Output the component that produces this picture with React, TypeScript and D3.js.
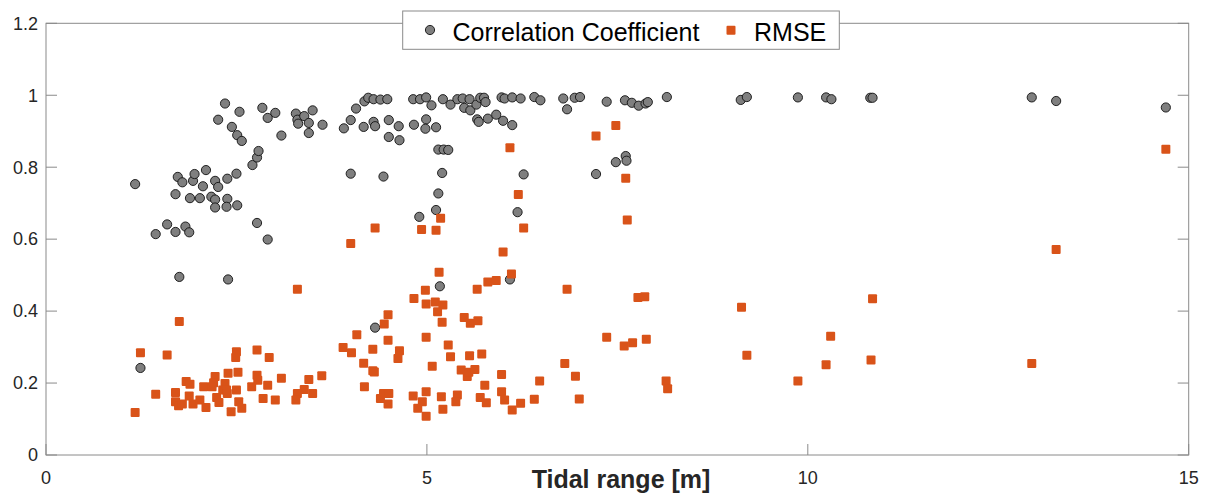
import React from "react";
import * as d3 from "d3";

// Correlation coefficient series (x = tidal range [m], y = coefficient)
const ccTidalRange = [
  1.17, 1.24, 1.44, 1.59, 1.70, 1.83, 1.88, 1.70, 1.73, 1.79, 1.75, 1.93, 1.95, 1.89, 2.02, 2.06, 2.10, 2.17,
  2.22, 2.26, 2.22, 2.22, 2.38, 2.37, 2.51, 2.38, 2.50, 2.39, 2.26, 2.35, 2.44, 2.54, 2.51, 2.57, 2.71, 2.77,
  2.79, 2.77, 2.91, 2.84, 2.91, 3.01, 3.09, 3.28, 3.30, 3.31, 3.39, 3.45, 3.45, 3.50, 3.63, 3.91, 4.00, 4.07,
  4.18, 4.17, 4.00, 4.23, 4.30, 4.39, 4.48, 4.30, 4.32, 4.32, 4.43, 4.50, 4.63, 4.50, 4.64, 4.82, 4.91, 4.83,
  4.90, 4.99, 4.99, 4.98, 5.06, 5.12, 5.15, 5.22, 5.28, 5.20, 5.15, 5.12, 5.17, 5.21, 5.31, 5.40, 5.47, 5.49,
  5.56, 5.57, 5.65, 5.70, 5.75, 5.77, 5.66, 5.68, 5.80, 5.91, 5.98, 6.02, 6.00, 6.12, 6.12, 6.09, 6.19, 6.23,
  6.27, 6.41, 6.49, 6.79, 6.84, 6.94, 7.01, 7.22, 7.36, 7.48, 7.61, 7.62, 7.60, 7.69, 7.78, 7.87, 7.90, 8.15,
  9.12, 9.20, 9.87, 10.24, 10.31, 10.82, 10.85, 12.94, 13.26, 14.70,
];
const ccValues = [
  0.753, 0.242, 0.614, 0.641, 0.620, 0.635, 0.619, 0.725, 0.773, 0.758, 0.495, 0.762, 0.781, 0.714, 0.714, 0.747, 0.792, 0.718,
  0.762, 0.745, 0.710, 0.688, 0.712, 0.690, 0.694, 0.768, 0.782, 0.488, 0.932, 0.977, 0.912, 0.954, 0.889, 0.873, 0.806, 0.827,
  0.845, 0.645, 0.599, 0.965, 0.937, 0.951, 0.888, 0.949, 0.932, 0.921, 0.942, 0.923, 0.895, 0.958, 0.918, 0.908, 0.931, 0.963,
  0.983, 0.912, 0.782, 0.993, 0.989, 0.988, 0.989, 0.926, 0.914, 0.354, 0.774, 0.931, 0.914, 0.884, 0.875, 0.989, 0.989, 0.918,
  0.662, 0.994, 0.933, 0.907, 0.972, 0.911, 0.849, 0.849, 0.848, 0.784, 0.727, 0.681, 0.469, 0.989, 0.974, 0.989, 0.991, 0.965,
  0.989, 0.958, 0.974, 0.993, 0.993, 0.981, 0.933, 0.926, 0.935, 0.946, 0.994, 0.991, 0.929, 0.994, 0.917, 0.488, 0.675, 0.991,
  0.780, 0.995, 0.986, 0.991, 0.961, 0.993, 0.995, 0.781, 0.982, 0.814, 0.831, 0.818, 0.986, 0.979, 0.971, 0.977, 0.981, 0.995,
  0.987, 0.995, 0.994, 0.994, 0.989, 0.993, 0.993, 0.994, 0.984, 0.966,
];

// RMSE series
const rmseTidalRange = [
  1.17, 1.24, 1.44, 1.59, 1.75, 1.70, 1.70, 1.74, 1.79, 1.84, 1.89, 1.88, 1.93, 2.02, 2.07, 2.10, 2.18, 2.22,
  2.20, 2.24, 2.27, 2.32, 2.35, 2.39, 2.37, 2.38, 2.43, 2.50, 2.49, 2.52, 2.50, 2.53, 2.57, 2.77, 2.93, 2.77,
  2.78, 2.70, 2.91, 2.85, 3.01, 3.09, 3.30, 3.45, 3.62, 3.39, 3.30, 3.28, 3.50, 3.90, 4.01, 4.08, 4.17, 4.29,
  4.29, 4.18, 4.00, 4.32, 4.44, 4.49, 4.49, 4.64, 4.62, 4.31, 4.43, 4.50, 4.49, 4.39, 4.83, 4.82, 4.99, 4.94,
  4.88, 4.99, 4.93, 5.12, 5.18, 5.16, 4.98, 4.99, 5.11, 5.21, 5.14, 5.20, 4.99, 5.28, 5.31, 5.07, 5.19, 5.21,
  5.40, 5.38, 5.45, 5.53, 5.55, 5.63, 5.56, 5.72, 5.49, 5.57, 5.67, 5.66, 5.80, 5.91, 6.00, 6.11, 6.20, 6.27,
  6.09, 5.76, 5.98, 5.70, 5.78, 5.98, 6.02, 6.12, 6.23, 6.41, 6.48, 6.81, 6.95, 7.00, 6.84, 7.22, 7.48, 7.61,
  7.63, 7.36, 7.59, 7.70, 7.88, 7.77, 7.86, 8.14, 8.16, 9.13, 9.20, 9.87, 10.24, 10.30, 10.83, 10.85, 12.94, 13.26,
  14.70,
];
const rmseValues = [
  0.118, 0.284, 0.169, 0.278, 0.371, 0.174, 0.148, 0.137, 0.142, 0.204, 0.197, 0.164, 0.142, 0.153, 0.190, 0.132, 0.190, 0.218,
  0.201, 0.160, 0.146, 0.181, 0.199, 0.227, 0.181, 0.171, 0.120, 0.287, 0.271, 0.230, 0.181, 0.148, 0.130, 0.292, 0.271, 0.222,
  0.208, 0.190, 0.194, 0.157, 0.153, 0.213, 0.461, 0.210, 0.220, 0.182, 0.171, 0.153, 0.171, 0.299, 0.284, 0.334, 0.255, 0.294,
  0.234, 0.190, 0.588, 0.631, 0.364, 0.390, 0.319, 0.290, 0.268, 0.231, 0.171, 0.171, 0.142, 0.157, 0.435, 0.164, 0.176, 0.148,
  0.130, 0.108, 0.627, 0.625, 0.658, 0.508, 0.458, 0.420, 0.425, 0.417, 0.398, 0.369, 0.327, 0.306, 0.273, 0.247, 0.162, 0.127,
  0.167, 0.148, 0.236, 0.218, 0.230, 0.238, 0.276, 0.281, 0.382, 0.366, 0.373, 0.461, 0.481, 0.485, 0.564, 0.503, 0.724, 0.631,
  0.854, 0.194, 0.224, 0.160, 0.145, 0.176, 0.153, 0.125, 0.144, 0.155, 0.206, 0.254, 0.219, 0.156, 0.461, 0.887, 0.916, 0.769,
  0.653, 0.327, 0.303, 0.312, 0.322, 0.438, 0.440, 0.206, 0.184, 0.411, 0.277, 0.206, 0.251, 0.330, 0.264, 0.434, 0.254, 0.571,
  0.850,
];

const xTicks = [0, 5, 10, 15];
const yTicks = [0, 0.2, 0.4, 0.6, 0.8, 1, 1.2];
const seriesNames = ["Correlation Coefficient", "RMSE"];
const xLabel = "Tidal range [m]";

const W = 1211;
const H = 493;
const left = 46;
const right = 1188.7;
const top = 23.3;
const bottom = 455;

const AXIS = "#8a8a8a";
const TEXT = "#262626";
const CIRCLE_FILL = "#7f7f7f";
const SQUARE_FILL = "#D95319";
const FONT = "'Liberation Sans', Arial, Helvetica, sans-serif";

export default function App() {
  const x = d3.scaleLinear().domain([0, 15]).range([left, right]);
  const y = d3.scaleLinear().domain([0, 1.2]).range([bottom, top]);
  const tickLen = 11;
  const sq = 9;

  return (
    <svg
      width={W}
      height={H}
      style={{ position: "absolute", left: 0, top: 0, background: "#fff" }}
      fontFamily={FONT}
    >
      <rect x={0} y={0} width={W} height={H} fill="#fff" />
      {/* ticks */}
      {yTicks.map((t) => (
        <g key={"yt" + t}>
          <line x1={left} x2={left + tickLen} y1={y(t)} y2={y(t)} stroke={AXIS} strokeWidth={1} />
          <line x1={right} x2={right - tickLen} y1={y(t)} y2={y(t)} stroke={AXIS} strokeWidth={1} />
          <text x={left - 8} y={y(t)} dy="0.35em" textAnchor="end" fontSize={18} fill={TEXT}>
            {String(t)}
          </text>
        </g>
      ))}
      {xTicks.map((t) => (
        <g key={"xt" + t}>
          <line x1={x(t)} x2={x(t)} y1={bottom} y2={bottom - tickLen} stroke={AXIS} strokeWidth={1} />
          <text x={x(t)} y={bottom + 29} textAnchor="middle" fontSize={18} fill={TEXT}>
            {String(t)}
          </text>
        </g>
      ))}
      {/* box */}
      <rect x={left} y={top} width={right - left} height={bottom - top} fill="none" stroke={AXIS} strokeWidth={1} />

      {/* correlation coefficient */}
      {ccTidalRange.map((tr, i) => (
        <circle
          key={"c" + i}
          cx={x(tr)}
          cy={y(ccValues[i])}
          r={4.6}
          fill={CIRCLE_FILL}
          stroke="#111"
          strokeWidth={0.9}
        />
      ))}
      {/* RMSE */}
      {rmseTidalRange.map((tr, i) => (
        <rect
          key={"s" + i}
          x={x(tr) - sq / 2}
          y={y(rmseValues[i]) - sq / 2}
          width={sq}
          height={sq}
          rx={1}
          fill={SQUARE_FILL}
        />
      ))}

      {/* x label */}
      <text x={621} y={488} textAnchor="middle" fontSize={25} fontWeight="bold" fill={TEXT}>
        {xLabel}
      </text>

      {/* legend */}
      <rect x={402.7} y={11} width={436.6} height={38.3} fill="#fff" stroke={AXIS} strokeWidth={1} />
      <circle cx={430} cy={30} r={4.6} fill={CIRCLE_FILL} stroke="#111" strokeWidth={0.9} />
      <text x={452.5} y={40.5} fontSize={25} fill="#000">
        {seriesNames[0]}
      </text>
      <rect x={731 - sq / 2} y={30.3 - sq / 2} width={sq} height={sq} rx={1} fill={SQUARE_FILL} />
      <text x={754} y={40.5} fontSize={25} fill="#000">
        {seriesNames[1]}
      </text>
    </svg>
  );
}
